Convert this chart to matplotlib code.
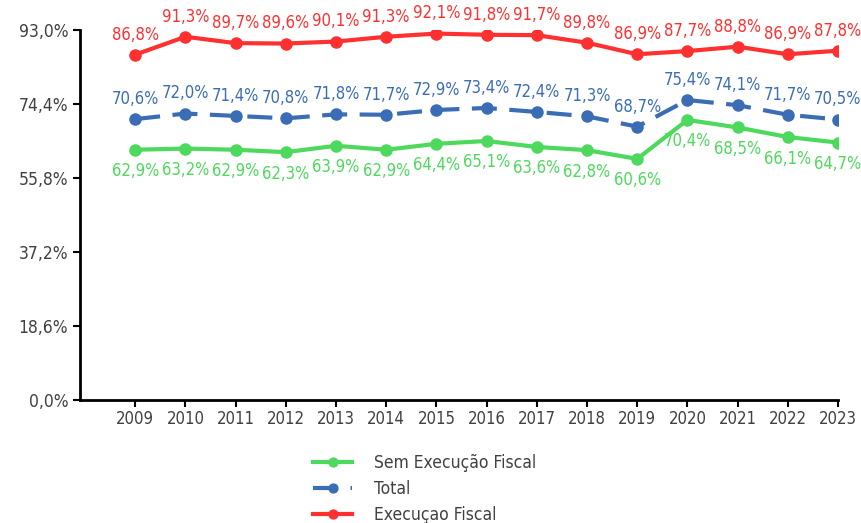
import numpy as np
import matplotlib.pyplot as plt

# dados
anos = ['2009', '2010', '2011', '2012', '2013', '2014', '2015', '2016',
        '2017', '2018', '2019', '2020', '2021', '2022', '2023']
sem_exec = [62.9, 63.2, 62.9, 62.3, 63.9, 62.9, 64.4, 65.1, 63.6, 62.8, 60.6, 70.4, 68.5, 66.1, 64.7]
total = [70.6, 72.0, 71.4, 70.8, 71.8, 71.7, 72.9, 73.4, 72.4, 71.3, 68.7, 75.4, 74.1, 71.7, 70.5]
exec_fiscal = [86.8, 91.3, 89.7, 89.6, 90.1, 91.3, 92.1, 91.8, 91.7, 89.8, 86.9, 87.7, 88.8, 86.9, 87.8]
yticks = [0.0, 18.6, 37.2, 55.8, 74.4, 93.0]

plt.rcParams['font.family'] = ['DejaVu Sans']
plt.rcParams['font.stretch'] = 'condensed'

verde = '#4cd95c'
azul = '#3a6db5'
vermelho = '#ff3030'
texto = '#404040'

fig = plt.figure(figsize=(8.62, 5.23), dpi=100)
ax = fig.add_axes([80/862, 1-400/523, 758/862, 370/523])

x = np.arange(len(anos))
ax.plot(x, sem_exec, '-o', color=verde, lw=3, ms=8, label='Sem Execução Fiscal')
ax.plot(x, total, '--o', color=azul, lw=3, ms=8, dashes=(6, 3), label='Total')
ax.plot(x, exec_fiscal, '-o', color=vermelho, lw=3, ms=8, label='Execuçao Fiscal')

def rotulo(v):
    return f'{v:.1f}%'.replace('.', ',')

for i in range(len(anos)):
    ax.annotate(rotulo(exec_fiscal[i]), (x[i], exec_fiscal[i]), xytext=(0, 8),
                textcoords='offset points', ha='center', va='bottom',
                color=vermelho, fontsize=12)
    ax.annotate(rotulo(total[i]), (x[i], total[i]), xytext=(0, 8),
                textcoords='offset points', ha='center', va='bottom',
                color=azul, fontsize=12)
    ax.annotate(rotulo(sem_exec[i]), (x[i], sem_exec[i]), xytext=(0, -9),
                textcoords='offset points', ha='center', va='top',
                color=verde, fontsize=12)

ax.set_ylim(0, 93)
ax.set_xlim(-1.1, len(anos) - 1)
ax.set_yticks(yticks)
ax.set_yticklabels([rotulo(v) for v in yticks], fontsize=12.5, color=texto)
ax.set_xticks(x)
ax.set_xticklabels(anos, fontsize=12, color=texto)
ax.tick_params(axis='x', length=5, width=1.5, pad=2)
ax.tick_params(axis='y', length=5, width=1.5)

for s in ['top', 'right']:
    ax.spines[s].set_visible(False)
ax.spines['left'].set_linewidth(2)
ax.spines['bottom'].set_linewidth(2)

fig.legend(loc='lower left', bbox_to_anchor=(303/862, -0.022), frameon=False,
           fontsize=12.5, labelcolor=texto, handlelength=2.2, labelspacing=0.45,
           markerscale=0.8, handletextpad=1.3, borderpad=0.1)

fig.savefig('out.png', dpi=100)
